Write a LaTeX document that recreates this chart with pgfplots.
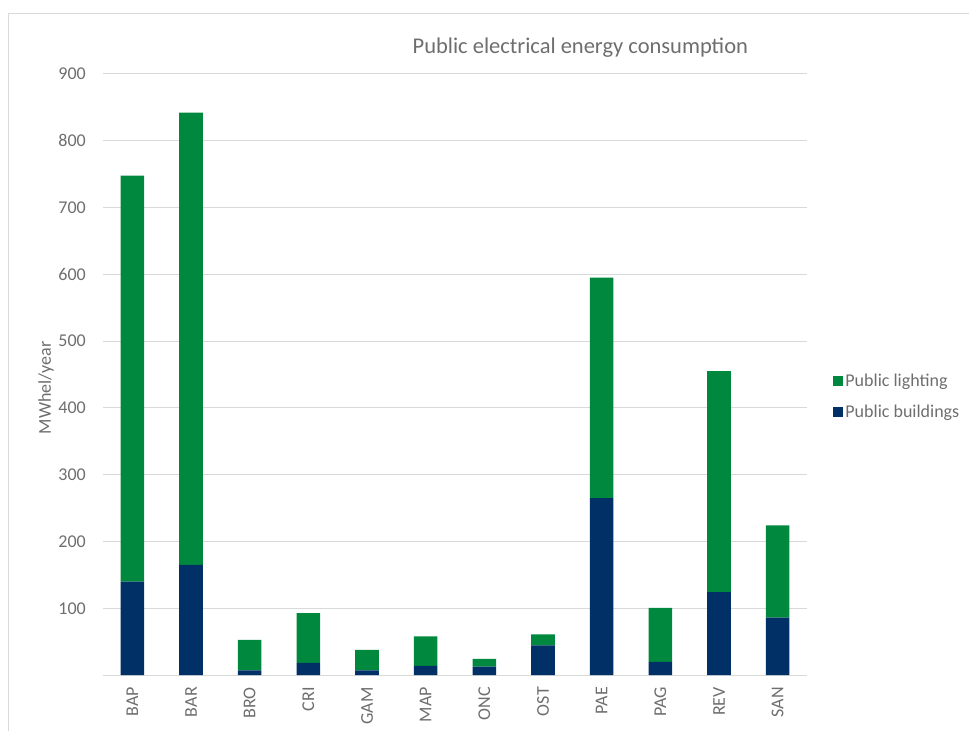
\documentclass[border=0pt]{standalone}
\usepackage{fontspec}
\setmainfont{Carlito}
\usepackage{pgfplots}
\pgfplotsset{compat=1.18}
\usepackage{pgfplotstable}

\definecolor{pubgreen}{RGB}{0,137,62}
\definecolor{pubnavy}{RGB}{0,48,102}
\definecolor{gridgray}{RGB}{217,217,217}
\definecolor{txtgray}{RGB}{110,110,110}

% MWhel/year per municipality
\pgfplotstableread{
x  name buildings lighting
0  BAP  140   608
1  BAR  165   677
2  BRO  7     45.5
3  CRI  18    74.5
4  GAM  7     30.5
5  MAP  13.5  44.5
6  ONC  12.5  11.5
7  OST  44.5  16.5
8  PAE  265   330
9  PAG  19.5  81
10 REV  124   331
11 SAN  86    138
}\consumption

\begin{document}
\begin{tikzpicture}[x=1pt,y=1pt]
\useasboundingbox (0,0) rectangle (969,731);
\draw[gridgray] (8.5,0) -- (8.5,718) -- (969,718);
\begin{axis}[
    at={(103pt,56pt)}, anchor=south west,
    scale only axis,
    width=704pt, height=601pt,
    ybar stacked,
    bar width=23.6pt,
    xmin=-0.5, xmax=11.5,
    ymin=0, ymax=900,
    enlargelimits=false,
    xtick=data,
    xticklabels={BAP,BAR,BRO,CRI,GAM,MAP,ONC,OST,PAE,PAG,REV,SAN},
    xtick style={draw=none},
    extra x ticks={-0.5,0.5,...,11.5},
    extra x tick labels={},
    extra x tick style={grid=none, major tick length=7pt, tick align=outside,
        tick style={draw=gridgray, line width=1pt}},
    ytick={100,200,...,900},
    ytick style={draw=none},
    ymajorgrids=true,
    major grid style={draw=gridgray, line width=1pt},
    axis x line*=bottom,
    axis y line*=left,
    x axis line style={draw=gridgray, line width=1pt, -},
    y axis line style={draw=none},
    /pgf/number format/assume math mode=true,
    tick label style={font=\fontsize{18}{21}\selectfont, text=txtgray},
    yticklabel style={anchor=east, inner sep=0pt, xshift=-17pt},
    xticklabel style={rotate=90, anchor=east, inner sep=0pt, xshift=-12pt},
    title={Public electrical energy consumption},
    title style={at={(0.678,1.034)}, anchor=center,
        font=\fontsize{22.5}{26}\selectfont, text=txtgray},
    ylabel={MWhel/year},
    ylabel style={at={(-0.081,0.4775)}, anchor=center,
        font=\fontsize{18}{21}\selectfont, text=txtgray},
    reverse legend,
    legend cell align=left,
    legend style={at={(1.033,0.464)}, anchor=west, draw=none, fill=none,
        font=\fontsize{18}{21}\selectfont, text=txtgray,
        row sep=13pt},
    legend image code/.code={\fill[#1] (0pt,-5pt) rectangle (10pt,5pt);},
]
\addplot[fill=pubnavy, draw=none] table[x=x, y=buildings]{\consumption};
\addlegendentry{Public buildings}
\addplot[fill=pubgreen, draw=none] table[x=x, y=lighting]{\consumption};
\addlegendentry{Public lighting}
\end{axis}
\end{tikzpicture}
\end{document}
